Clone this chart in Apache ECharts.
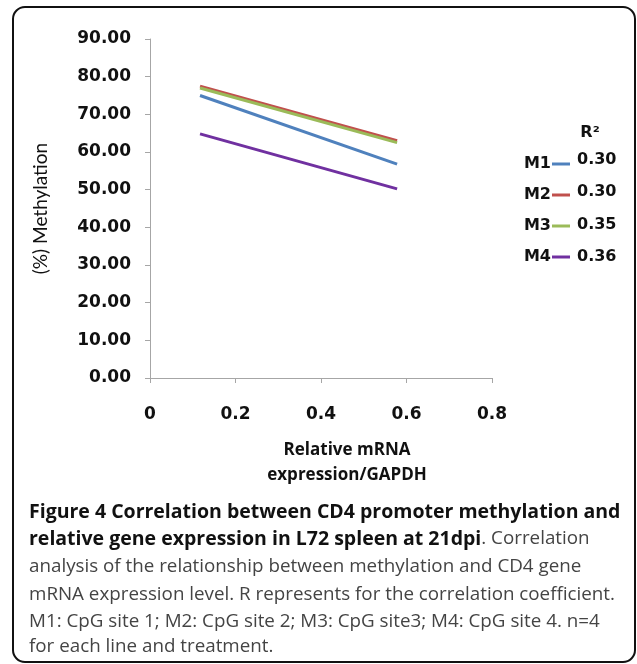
<!DOCTYPE html>
<html>
<head>
<meta charset="utf-8">
<script src="https://cdn.jsdelivr.net/npm/echarts@6/dist/echarts.min.js"></script>
<style>
html,body{margin:0;padding:0;background:#fff;}
#chart{width:637px;height:664px;}
</style>
</head>
<body>
<div id="chart"></div>
<script>
const seriesNames = ['M1', 'M2', 'M3', 'M4'];
const xValues = [0.117, 0.578];
const m1Values = [75.0, 56.8];
const m2Values = [77.5, 63.0];
const m3Values = [77.0, 62.5];
const m4Values = [64.8, 50.2];
const r2Values = ['0.30', '0.30', '0.35', '0.36'];
const colors = ['#4F81BD', '#C0504D', '#9BBB59', '#7030A0'];
const captionLines = [
  'Figure 4 Correlation between CD4 promoter methylation and',
  'relative gene expression in L72 spleen at 21dpi',
  '. Correlation',
  'analysis of the relationship between methylation and CD4 gene',
  'mRNA expression level. R represents for the correlation coefficient.',
  'M1: CpG site 1; M2: CpG site 2; M3: CpG site3; M4: CpG site 4. n=4',
  'for each line and treatment.'
];

const allValues = [m1Values, m2Values, m3Values, m4Values];
const chart = echarts.init(document.getElementById('chart'));
const tickFont = 'DejaVu Sans';

const series = seriesNames.map((n, i) => ({
  name: n,
  type: 'line',
  data: xValues.map((x, j) => [x, allValues[i][j]]),
  showSymbol: false,
  lineStyle: { width: 3, color: colors[i] },
  itemStyle: { color: colors[i] },
  silent: true
}));

const boldCap = { fontFamily: 'Open Sans', fontWeight: 'bold', fontSize: 19.5, fill: '#111' };
const regCap = { fontFamily: 'Open Sans', fontWeight: 'normal', fontSize: 18.8, fill: '#444' };

const graphics = [
  { type: 'rect', shape: { x: 13, y: 7, width: 622, height: 655, r: 12 },
    style: { fill: 'none', stroke: '#111', lineWidth: 2 } },
  { type: 'text', x: 590, y: 133, style: { text: 'R²', fontFamily: 'DejaVu Sans', fontWeight: 'bold', fontSize: 16, fill: '#111', align: 'center', verticalAlign: 'middle' } },
  { type: 'text', x: 347, y: 450, style: { text: 'Relative mRNA', fontFamily: 'Open Sans', fontWeight: 'bold', fontSize: 17, fill: '#111', align: 'center', verticalAlign: 'middle' } },
  { type: 'text', x: 347, y: 475, style: { text: 'expression/GAPDH', fontFamily: 'Open Sans', fontWeight: 'bold', fontSize: 17, fill: '#111', align: 'center', verticalAlign: 'middle' } }
];
const legendRows = [160, 192, 225, 257];
r2Values.forEach((v, i) => {
  graphics.push({ type: 'text', x: 577, y: legendRows[i], style: { text: v, fontFamily: 'DejaVu Sans', fontWeight: 'bold', fontSize: 16, fill: '#111', align: 'left', verticalAlign: 'middle' } });
});
const capY = [512, 539, 567, 595, 622, 647];
graphics.push({ type: 'text', x: 29, y: capY[0], style: Object.assign({ text: captionLines[0], verticalAlign: 'middle' }, boldCap) });
graphics.push({ type: 'text', x: 29, y: capY[1], style: {
  text: '{b|' + captionLines[1] + '}{r|' + captionLines[2] + '}', verticalAlign: 'middle',
  rich: { b: Object.assign({}, boldCap), r: Object.assign({}, regCap) } } });
for (let k = 3; k < captionLines.length; k++) {
  graphics.push({ type: 'text', x: 29, y: capY[k - 1], style: Object.assign({ text: captionLines[k], verticalAlign: 'middle' }, regCap) });
}

chart.setOption({
  animation: false,
  backgroundColor: '#fff',
  grid: { left: 150, top: 39, width: 342, height: 339, containLabel: false },
  legend: {
    data: seriesNames,
    orient: 'vertical',
    right: 62,
    top: 151,
    align: 'right',
    itemWidth: 18,
    itemHeight: 3,
    itemGap: 15,
    icon: 'rect',
    textStyle: { fontFamily: tickFont, fontWeight: 'bold', fontSize: 16, color: '#111', padding: [0, -4, 0, 0] },
    selectedMode: false
  },
  xAxis: {
    type: 'value', min: 0, max: 0.8, interval: 0.2,
    axisLine: { lineStyle: { color: '#a6a6a6', width: 1 } },
    axisTick: { show: true, length: 5, lineStyle: { color: '#a6a6a6' } },
    splitLine: { show: false },
    axisLabel: { margin: 28, fontFamily: tickFont, fontWeight: 'bold', fontSize: 17, color: '#111',
      formatter: v => (Math.round(v * 10) / 10).toString() }
  },
  yAxis: {
    type: 'value', min: 0, max: 90, interval: 10,
    name: '(%) Methylation', nameLocation: 'middle', nameGap: 100, nameRotate: 90,
    nameTextStyle: { fontFamily: 'Lato', fontSize: 19, color: '#111' },
    axisLine: { show: true, lineStyle: { color: '#a6a6a6', width: 1 } },
    axisTick: { show: true, length: 5, lineStyle: { color: '#a6a6a6' } },
    splitLine: { show: false },
    axisLabel: { margin: 19, fontFamily: tickFont, fontWeight: 'bold', fontSize: 17, color: '#111',
      formatter: v => v.toFixed(2) }
  },
  series: series,
  graphic: graphics
});
</script>
</body>
</html>
